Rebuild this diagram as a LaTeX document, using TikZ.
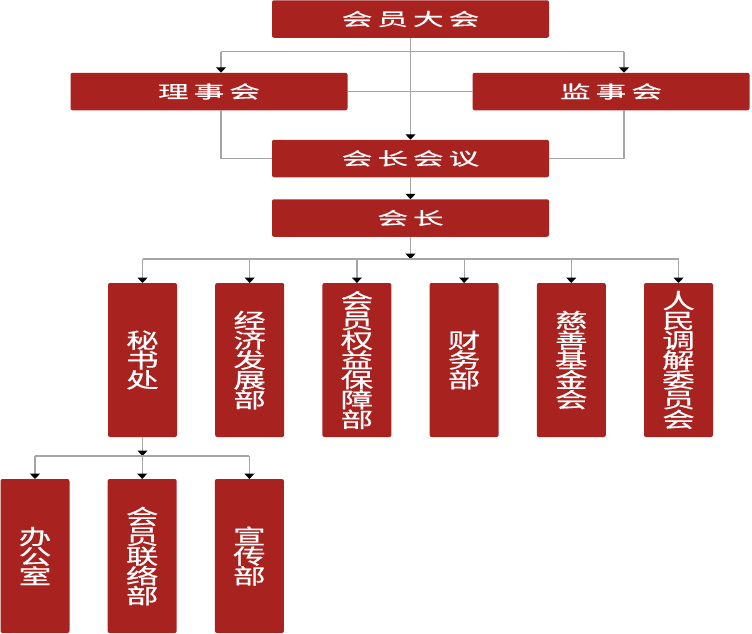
\documentclass[tikz,border=0pt]{standalone}
\usepackage{fontspec}
\newfontfamily\hzfont[FakeStretch=1.75, FakeBold=0.6]{Noto Sans CJK SC}
\newfontfamily\vtfont[FakeStretch=1.55, FakeBold=0.6]{Noto Sans CJK SC}
\usetikzlibrary{arrows.meta, positioning}
\definecolor{orgred}{RGB}{168,34,32}
\definecolor{linegray}{RGB}{165,165,165}
\newcommand\chgap{\hspace{5pt}}
\newcommand\vtsize{\vtfont\fontsize{21}{19.8}\selectfont\lineskiplimit=-30pt\relax}

\begin{document}
\begin{tikzpicture}[
    x=1pt, y=-1pt,
    node distance=42pt and 38.2pt,
    topbox/.style={
        fill=orgred,
        rounded corners=2pt,
        text=white,
        minimum width=277pt,
        minimum height=37.5pt,
        inner sep=0pt,
        outer sep=0pt,
        font=\hzfont\fontsize{17.5}{18}\selectfont
    },
    deptbox/.style={
        fill=orgred,
        rounded corners=2pt,
        text=white,
        align=center,
        minimum width=69pt,
        minimum height=154pt,
        inner sep=0pt,
        outer sep=0pt,
        font=\vtsize
    },
    link/.style={
        draw=linegray,
        line width=1.2pt
    },
    arrow/.style={
        link,
        -{Triangle[length=5.5pt, width=10pt, color=black]}
    }
]
\useasboundingbox (0,0) rectangle (752,633);

% Nodes
\node (assembly) [topbox] at (410.5,19) {会\chgap 员\chgap 大\chgap 会};
\node (council) [topbox] at (209,91.5) {理\chgap 事\chgap 会};
\node (supervisors) [topbox] at (611,91.5) {监\chgap 事\chgap 会};
\node (presmeet) [topbox] at (410.5,158.5) {会\chgap 长\chgap 会\chgap 议};
\node (president) [topbox] at (410.5,218) {会\chgap 长};

\node (secretariat) [deptbox] at (142.5,360) {秘\\书\\处};
\node (economy) [deptbox, right=of secretariat] {经\\济\\发\\展\\部};
\node (rights) [deptbox, right=of economy] {会\\员\\权\\益\\保\\障\\部};
\node (finance) [deptbox, right=of rights] {财\\务\\部};
\node (charity) [deptbox, right=of finance] {慈\\善\\基\\金\\会};
\node (mediation) [deptbox, right=of charity] {人\\民\\调\\解\\委\\员\\会};

\node (office) [deptbox] at (35,556) {办\\公\\室};
\node (liaison) [deptbox, right=of office] {会\\员\\联\\络\\部};
\node (publicity) [deptbox, right=of liaison] {宣\\传\\部};

\coordinate (lbranch) at (221,51.5);
\coordinate (rbranch) at (624,51.5);
\coordinate (deptbus) at (410.5,259);
\coordinate (officebus) at (142.5,456);

% Paths
\draw [arrow] (assembly) -- (presmeet);
\draw [link] (lbranch) -- (rbranch);
\draw [arrow] (lbranch) -- (lbranch |- council.north);
\draw [arrow] (rbranch) -- (rbranch |- supervisors.north);
\draw [link] (council) -- (supervisors);
\draw [link] (lbranch |- council.south) |- (presmeet.west);
\draw [link] (rbranch |- supervisors.south) |- (presmeet.east);
\draw [arrow] (presmeet) -- (president);

\draw [arrow] (president) -- (deptbus);
\draw [link] (secretariat.north |- deptbus) -- (mediation.north |- deptbus);
\foreach \d in {secretariat, economy, rights, finance, charity, mediation}
    \draw [arrow] (\d.north |- deptbus) -- (\d);

\draw [arrow] (secretariat) -- (officebus);
\draw [link] (office.north |- officebus) -- (publicity.north |- officebus);
\foreach \d in {office, liaison, publicity}
    \draw [arrow] (\d.north |- officebus) -- (\d);

\end{tikzpicture}
\end{document}
